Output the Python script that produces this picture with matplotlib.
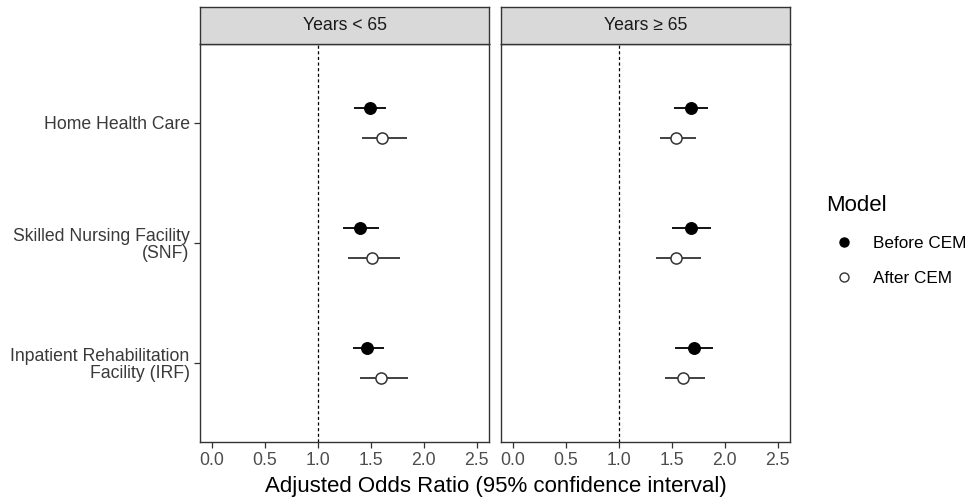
import numpy as np
import matplotlib
matplotlib.use("Agg")
import matplotlib.pyplot as plt
from matplotlib.lines import Line2D

plt.rcParams['font.family'] = ['Liberation Sans', 'DejaVu Sans']

categories = ["Home Health Care", "Skilled Nursing Facility\n(SNF)",
              "Inpatient Rehabilitation\nFacility (IRF)"]
panels = ["Years < 65", "Years \u2265 65"]
xticks = [0.0, 0.5, 1.0, 1.5, 2.0, 2.5]

# odds ratio, lower, upper per panel (rows follow categories)
before_or = [[1.49, 1.40, 1.47], [1.68, 1.68, 1.71]]
before_lo = [[1.345, 1.24, 1.33], [1.52, 1.50, 1.535]]
before_hi = [[1.645, 1.58, 1.63], [1.84, 1.875, 1.89]]
after_or = [[1.61, 1.51, 1.60], [1.545, 1.545, 1.61]]
after_lo = [[1.42, 1.285, 1.40], [1.39, 1.355, 1.44]]
after_hi = [[1.84, 1.78, 1.85], [1.73, 1.775, 1.82]]

fig = plt.figure(figsize=(9.72, 4.98), dpi=100)

lefts = [0.2058, 0.5154]
width = 0.2976
bottom, top, strip_top = 0.113, 0.9116, 0.985
edge = '#333333'
ypos = np.arange(1, len(categories) + 1)
dodge = 0.125

for p in range(2):
    ax = fig.add_axes([lefts[p], bottom, width, top - bottom])
    ax.axvline(1.0, color='black', linestyle=(0, (2.5, 2)), linewidth=0.9)
    ax.hlines(ypos - dodge, before_lo[p], before_hi[p], color='black', linewidth=1.3)
    ax.plot(before_or[p], ypos - dodge, 'o', color='black', markersize=8.3, zorder=3)
    ax.hlines(ypos + dodge, after_lo[p], after_hi[p], color='#333333', linewidth=1.3)
    ax.plot(after_or[p], ypos + dodge, 'o', markerfacecolor='white', markeredgecolor='#333333',
            markeredgewidth=1.1, markersize=8, zorder=3)
    ax.set_xlim(-0.11, 2.62)
    ax.set_ylim(3.656, 0.344)
    ax.set_xticks(xticks)
    ax.set_xticklabels([f"{t:.1f}" for t in xticks], fontsize=12.7, color='#4d4d4d')
    ax.set_yticks(ypos)
    ax.tick_params(axis='both', direction='out', length=4, width=0.9, color='#333333')
    if p == 0:
        ax.set_yticklabels(categories, fontsize=12.7, color='#3a3a3a', ha='right',
                           multialignment='right', linespacing=1.0)
    else:
        ax.set_yticklabels([])
        ax.tick_params(axis='y', length=0)
    for s in ax.spines.values():
        s.set_color(edge)
        s.set_linewidth(1.0)

    sax = fig.add_axes([lefts[p], top, width, strip_top - top])
    sax.set_facecolor('#d9d9d9')
    sax.set_xticks([])
    sax.set_yticks([])
    for s in sax.spines.values():
        s.set_color(edge)
        s.set_linewidth(1.0)
    sax.text(0.5, 0.5, panels[p], ha='center', va='center', fontsize=12.7,
             color='#1a1a1a', transform=sax.transAxes)

fig.text(0.5105, 0.003, "Adjusted Odds Ratio (95% confidence interval)", ha='center',
         va='bottom', fontsize=16, color='black')

handles = [Line2D([], [], linestyle='none', marker='o', color='black', markersize=6.5),
           Line2D([], [], linestyle='none', marker='o', markerfacecolor='white',
                  markeredgecolor='#333333', markersize=6.5)]
leg = fig.legend(handles, ["Before CEM", "After CEM"], title="Model",
                 loc='upper left', bbox_to_anchor=(0.838, 0.632), frameon=False,
                 fontsize=12.3, title_fontsize=16, handletextpad=0.75,
                 labelspacing=1.15, alignment='left', borderpad=0.2)

fig.savefig("out.png", dpi=100)
